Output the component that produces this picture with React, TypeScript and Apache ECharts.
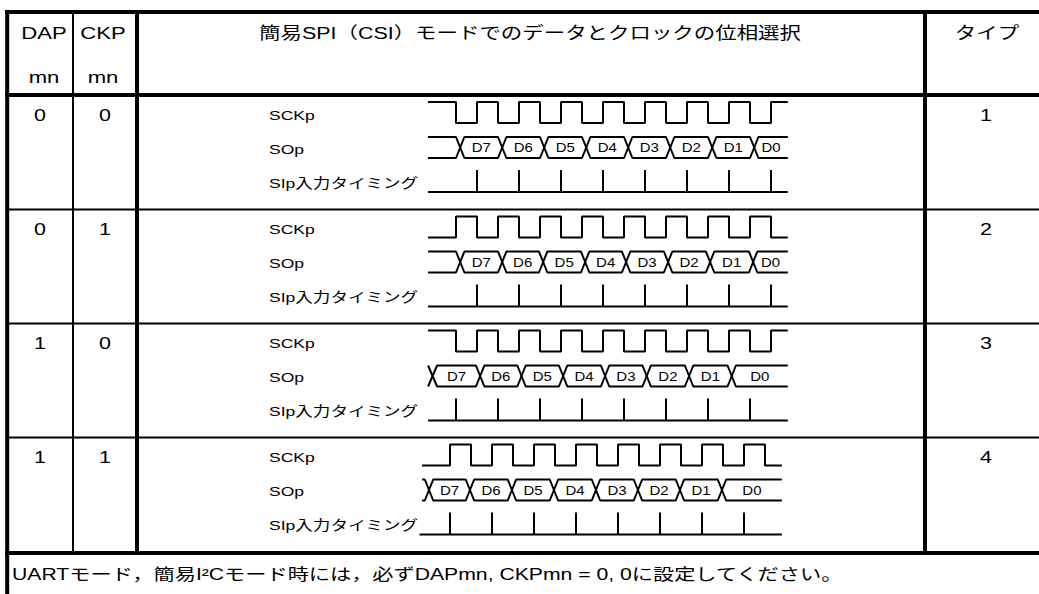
import React, { useEffect, useRef } from "react";
import * as echarts from "echarts";

const FONT = "'Liberation Sans', Arial, 'Noto Sans CJK JP', sans-serif";

// ---- table texts ----
const headerTop = ["DAP", "CKP"];
const headerBottom = ["mn", "mn"];
const titleText = "簡易SPI（CSI）モードでのデータとクロックの位相選択";
const typeHeader = "タイプ";
const dapValues = ["0", "0", "1", "1"];
const ckpValues = ["0", "1", "0", "1"];
const typeValues = ["1", "2", "3", "4"];
const signalNames = ["SCKp", "SOp", "SIp入力タイミング"];
const footerNote = "UARTモード，簡易I²Cモード時には，必ずDAPmn, CKPmn = 0, 0に設定してください。";
const dataBits = ["D7", "D6", "D5", "D4", "D3", "D2", "D1", "D0"];

// ---- timing values (time unit = half clock period) ----
const traceStart = -0.33;
const traceEnd = 16.8;
const clockEdges = [1, 2, 3, 4, 5, 6, 7, 8, 9, 10, 11, 12, 13, 14, 15, 16];
const clockIdleHigh = [true, false, true, false];
const soTransitions = [
  [1.2, 3.2, 5.2, 7.2, 9.2, 11.2, 13.2, 15.2],
  [1.2, 3.2, 5.15, 7.15, 9.1, 11.1, 13.1, 15.15],
  [-0.1, 2.15, 4.12, 6.1, 8.1, 10.08, 12.1, 14.13],
  [0, 1.95, 3.95, 5.95, 7.95, 9.95, 11.95, 13.95],
];
const siSamples = [
  [2, 4, 6, 8, 10, 12, 14, 16],
  [2, 4, 6, 8, 10, 12, 14, 16],
  [1, 3, 5, 7, 9, 11, 13, 15],
  [1, 3, 5, 7, 9, 11, 13, 15],
];
const siBaselineStart = [-0.33, -0.33, -0.33, -0.45];

// signal levels (logical units on each row's y axis)
const CLK_H = 9;
const CLK_L = 6.9;
const BUS_T = 5.5;
const BUS_B = 3.4;
const BUS_M = (BUS_T + BUS_B) / 2;
const TICK_T = 2.2;
const BASE = 0;
const X_HALF = 0.2;

// ---- layout ----
const W = 1039;
const H = 594;
const rowTops = [95, 209.5, 323.5, 437.5];
const footerTop = 553;
const gridLefts = [424.5, 424.5, 424.5, 418.5];
const SX = 1.3;

function clockData(r: number) {
  let lvl = clockIdleHigh[r];
  const d: number[][] = [[traceStart, lvl ? CLK_H : CLK_L]];
  for (const e of clockEdges) {
    lvl = !lvl;
    d.push([e, lvl ? CLK_H : CLK_L]);
  }
  d.push([traceEnd, lvl ? CLK_H : CLK_L]);
  return d;
}

function busData(r: number) {
  const a: number[][] = [[traceStart, BUS_T]];
  const b: number[][] = [[traceStart, BUS_B]];
  let aTop = true;
  for (const c of soTransitions[r]) {
    a.push([c - X_HALF, aTop ? BUS_T : BUS_B]);
    a.push([c + X_HALF, aTop ? BUS_B : BUS_T]);
    b.push([c - X_HALF, aTop ? BUS_B : BUS_T]);
    b.push([c + X_HALF, aTop ? BUS_T : BUS_B]);
    aTop = !aTop;
  }
  a.push([traceEnd, aTop ? BUS_T : BUS_B]);
  b.push([traceEnd, aTop ? BUS_B : BUS_T]);
  return [a, b];
}

function siData(r: number) {
  const d: number[][] = [[siBaselineStart[r], BASE]];
  for (const t of siSamples[r]) {
    d.push([t, BASE], [t, TICK_T], [t, BASE]);
  }
  d.push([traceEnd, BASE]);
  return d;
}

function bitCenters(r: number) {
  const tr = soTransitions[r];
  return dataBits.map((_, i) => {
    const a = tr[i];
    const b = i + 1 < tr.length ? tr[i + 1] : traceEnd;
    return [(a + b) / 2, BUS_M];
  });
}

function txt(text: string, x: number, y: number, size: number, align = "center") {
  return {
    type: "text",
    x,
    y,
    scaleX: SX,
    silent: true,
    style: {
      text,
      fontSize: size,
      fontFamily: FONT,
      fill: "#000",
      align,
      verticalAlign: "middle",
      textAlign: align,
      textVerticalAlign: "middle",
    },
  };
}

function ln(x1: number, y1: number, x2: number, y2: number, w: number) {
  return {
    type: "line",
    silent: true,
    shape: { x1, y1, x2, y2 },
    style: { stroke: "#000", lineWidth: w },
  };
}

export default function App() {
  const ref = useRef<HTMLDivElement>(null);

  useEffect(() => {
    if (!ref.current) return;
    const chart = echarts.init(ref.current, null, { renderer: "svg", width: W, height: H });

    const series: any[] = [];
    const lineCommon = {
      type: "line",
      symbol: "none",
      silent: true,
      clip: false,
      animation: false,
      lineStyle: { color: "#000", width: 2 },
    };
    rowTops.forEach((_, r) => {
      series.push({ ...lineCommon, xAxisIndex: r, yAxisIndex: r, step: "end", data: clockData(r) });
      const [a, b] = busData(r);
      series.push({ ...lineCommon, xAxisIndex: r, yAxisIndex: r, data: a });
      series.push({ ...lineCommon, xAxisIndex: r, yAxisIndex: r, data: b });
      series.push({ ...lineCommon, xAxisIndex: r, yAxisIndex: r, data: siData(r) });
      series.push({
        type: "custom",
        xAxisIndex: r,
        yAxisIndex: r,
        silent: true,
        data: bitCenters(r),
        renderItem: (params: any, api: any) => {
          const p = api.coord([api.value(0), api.value(1)]);
          return {
            type: "text",
            x: p[0],
            y: p[1] + 0.5,
            scaleX: 1.2,
            style: {
              text: dataBits[params.dataIndex],
              fontSize: 12.5,
              fontFamily: FONT,
              fill: "#000",
              align: "center",
              verticalAlign: "middle",
              textAlign: "center",
              textVerticalAlign: "middle",
            },
          };
        },
      });
    });

    const g: any[] = [];
    // table frame
    g.push(ln(5, 12, W, 12, 4));
    g.push(ln(7.2, 10, 7.2, H, 4));
    g.push(ln(5, 95, W, 95, 4));
    g.push(ln(73, 12, 73, footerTop, 2));
    g.push(ln(137, 12, 137, footerTop, 4));
    g.push(ln(925, 12, 925, footerTop, 4));
    rowTops.slice(1).forEach((y) => g.push(ln(7, y, W, y, 2)));
    g.push(ln(5, footerTop, W, footerTop, 4));

    // header
    g.push(txt(headerTop[0], 44, 33, 17));
    g.push(txt(headerTop[1], 103, 33, 17));
    g.push(txt(headerBottom[0], 44, 77, 17));
    g.push(txt(headerBottom[1], 103, 77, 17));
    g.push(txt(titleText, 530, 33, 16.5));
    g.push(txt(typeHeader, 987, 33, 16.5));

    rowTops.forEach((t, r) => {
      g.push(txt(dapValues[r], 40, t + 20, 16.5));
      g.push(txt(ckpValues[r], 105, t + 20, 16.5));
      g.push(txt(typeValues[r], 986, t + 20, 16.5));
      g.push(txt(signalNames[0], 269, t + 20, 13.5, "left"));
      g.push(txt(signalNames[1], 269, t + 54, 13.5, "left"));
      g.push(txt(signalNames[2], 269, t + 88, 13.5, "left"));
    });

    g.push(txt(footerNote, 12, 574, 16.3, "left"));

    chart.setOption({
      animation: false,
      backgroundColor: "#fff",
      grid: rowTops.map((t, r) => ({ left: gridLefts[r], top: t + 7, width: 367.5, height: 90 })),
      xAxis: rowTops.map((_, r) => ({ type: "value", gridIndex: r, min: -0.5, max: 17, show: false })),
      yAxis: rowTops.map((_, r) => ({ type: "value", gridIndex: r, min: 0, max: 9, show: false })),
      series,
      graphic: { elements: g },
    });

    return () => chart.dispose();
  }, []);

  return (
    <div
      ref={ref}
      style={{ position: "fixed", left: 0, top: 0, width: W, height: H, background: "#fff" }}
    />
  );
}
